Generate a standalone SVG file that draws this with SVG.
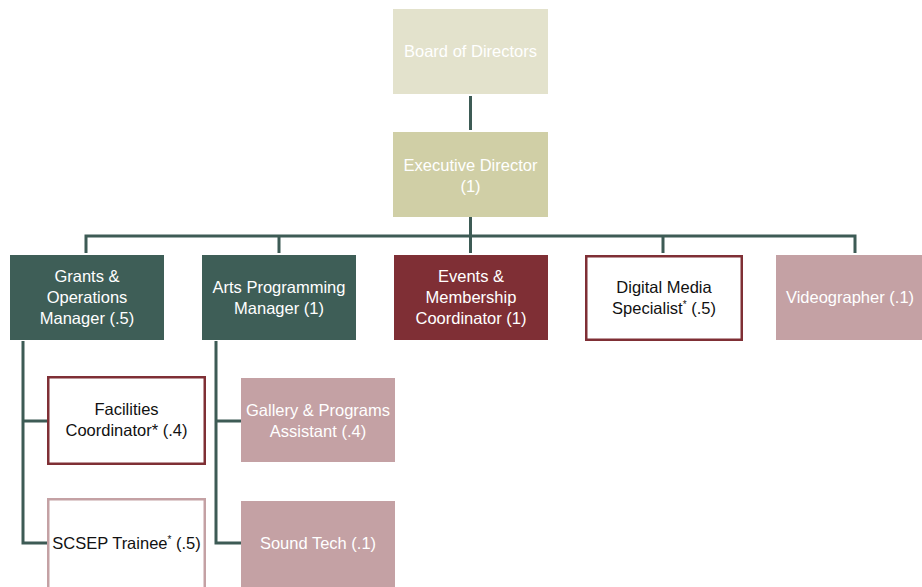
<svg xmlns="http://www.w3.org/2000/svg" width="922" height="587" viewBox="0 0 922 587">
<style>
text{font-family:"Liberation Sans",Arial,sans-serif;font-size:16.5px;text-anchor:middle}
.w{fill:#ffffff}
.k{fill:#111111}
.ln{stroke:#3d5b55;stroke-width:3;fill:none}
.sup{font-size:10px}
</style>
<rect width="922" height="587" fill="#ffffff"/>
<g id="connectors">
<path class="ln" d="M470.5 96V130"/>
<path class="ln" d="M470.5 217V236M86 253V236H855V253M279 236V253M470.5 236V253M663 236V253"/>
<path class="ln" d="M23 341V543H47M23 421H47"/>
<path class="ln" d="M216 341V543H241M216 421H241"/>
</g>
<g id="board"><rect x="393" y="9" width="155" height="85" fill="#e3e2cc"/><text class="w" x="470.5" y="57">Board of Directors</text></g>
<g id="exec"><rect x="393" y="132" width="155" height="85" fill="#d0cfa6"/><text class="w" x="470.5" y="171">Executive Director</text><text class="w" x="470.5" y="192">(1)</text></g>
<g id="grants"><rect x="10" y="255" width="154" height="85" fill="#3e5e57"/><text class="w" x="87" y="282">Grants &amp;</text><text class="w" x="87" y="303">Operations</text><text class="w" x="87" y="324">Manager (.5)</text></g>
<g id="arts"><rect x="202" y="255" width="154" height="85" fill="#3e5e57"/><text class="w" x="279" y="293">Arts Programming</text><text class="w" x="279" y="314">Manager (1)</text></g>
<g id="events"><rect x="394" y="255" width="154" height="85" fill="#7f2f35"/><text class="w" x="471" y="282">Events &amp;</text><text class="w" x="471" y="303">Membership</text><text class="w" x="471" y="324">Coordinator (1)</text></g>
<g id="digital"><rect x="586.25" y="256.25" width="155.5" height="83.5" fill="#ffffff" stroke="#7f2f35" stroke-width="2.5"/><text class="k" x="664" y="293">Digital Media</text><text class="k" x="664" y="314">Specialist<tspan class="sup" dy="-6">*</tspan><tspan dy="6"> (.5)</tspan></text></g>
<g id="videographer"><rect x="776" y="255" width="146" height="85" fill="#c4a1a4"/><text class="w" x="850" y="303">Videographer (.1)</text></g>
<g id="facilities"><rect x="48.25" y="377.25" width="156.5" height="86.5" fill="#ffffff" stroke="#7f2f35" stroke-width="2.5"/><text class="k" x="126.5" y="415">Facilities</text><text class="k" x="126.5" y="436">Coordinator* (.4)</text></g>
<g id="gallery"><rect x="241" y="378" width="154" height="84" fill="#c4a1a4"/><text class="w" x="318" y="416">Gallery &amp; Programs</text><text class="w" x="318" y="437">Assistant (.4)</text></g>
<g id="scsep"><rect x="48.25" y="499.25" width="156.5" height="90" fill="#ffffff" stroke="#c4a1a4" stroke-width="2.5"/><text class="k" x="126.5" y="549">SCSEP Trainee<tspan class="sup" dy="-6">*</tspan><tspan dy="6"> (.5)</tspan></text></g>
<g id="sound"><rect x="241" y="501" width="154" height="86" fill="#c4a1a4"/><text class="w" x="318" y="549">Sound Tech (.1)</text></g>
</svg>
